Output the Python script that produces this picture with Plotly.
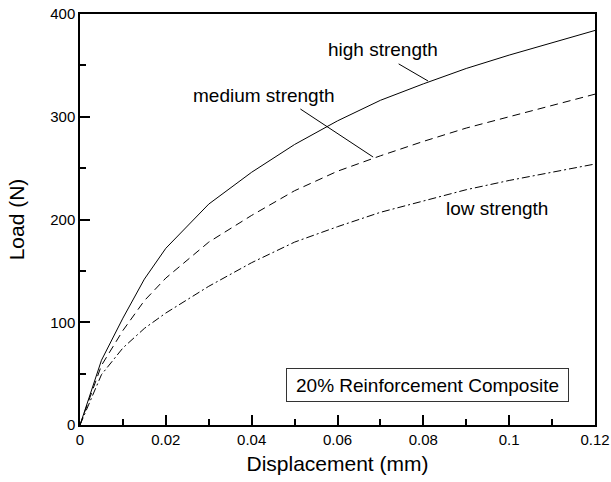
import plotly.graph_objects as go

disp = [0, 0.005, 0.01, 0.015, 0.02, 0.03, 0.04, 0.05, 0.06, 0.07, 0.08, 0.09, 0.10, 0.11, 0.12]
high = [0, 63, 104, 142, 172, 215, 246, 273, 296, 316, 332, 347, 360, 372, 384]
medium = [0, 58, 92, 121, 143, 178, 204, 228, 247, 262, 276, 289, 300, 311, 322]
low = [0, 49, 75, 94, 109, 135, 158, 178, 193, 207, 218, 229, 238, 246, 254]

FONT = "Liberation Sans, Arial, Helvetica, sans-serif"

fig = go.Figure()
fig.add_trace(go.Scatter(x=disp, y=high, mode="lines", name="high strength",
                         line=dict(color="black", width=1)))
fig.add_trace(go.Scatter(x=disp, y=medium, mode="lines", name="medium strength",
                         line=dict(color="black", width=1, dash="8px,5px")))
fig.add_trace(go.Scatter(x=disp, y=low, mode="lines", name="low strength",
                         line=dict(color="black", width=1, dash="8px,3px,2px,3px")))

ann = []
# labels
ann.append(dict(x=0.0706, y=365, xref="x", yref="y", text="high strength", showarrow=False,
                font=dict(size=19, color="black", family=FONT)))
ann.append(dict(x=0.0428, y=321, xref="x", yref="y", text="medium strength", showarrow=False,
                font=dict(size=19, color="black", family=FONT)))
ann.append(dict(x=0.0972, y=211, xref="x", yref="y", text="low strength", showarrow=False,
                font=dict(size=19, color="black", family=FONT)))
# leader lines
ann.append(dict(x=0.0811, y=334.8, ax=0.0739, ay=352.3, xref="x", yref="y", axref="x", ayref="y",
                text="", showarrow=True, arrowhead=0, arrowwidth=1, arrowcolor="black",
                standoff=0, startstandoff=0))
ann.append(dict(x=0.0683, y=260.8, ax=0.0510, ay=308.5, xref="x", yref="y", axref="x", ayref="y",
                text="", showarrow=True, arrowhead=0, arrowwidth=1, arrowcolor="black",
                standoff=0, startstandoff=0))
# box
ann.append(dict(x=0.081, y=38.9, xref="x", yref="y", text="20% Reinforcement Composite",
                showarrow=False, font=dict(size=19, color="black", family=FONT),
                bordercolor="#333", borderwidth=1, borderpad=5, width=271, height=22,
                bgcolor="white"))

fig.update_layout(
    width=611, height=482,
    margin=dict(l=80, r=16, t=14, b=57),
    paper_bgcolor="white", plot_bgcolor="white",
    showlegend=False,
    font=dict(family=FONT, color="black", size=15),
    annotations=ann,
)
fig.update_xaxes(
    range=[0, 0.12], tickvals=[0, 0.02, 0.04, 0.06, 0.08, 0.1, 0.12],
    ticktext=["0", "0.02", "0.04", "0.06", "0.08", "0.1", "0.12"],
    ticks="inside", ticklen=10, tickwidth=1.5, tickcolor="black",
    minor=dict(dtick=0.01, ticks="inside", ticklen=6, tickwidth=1.5, tickcolor="black", showgrid=False),
    showline=True, linecolor="black", linewidth=1.5, mirror=True,
    showgrid=False, zeroline=False, automargin=False,
    title=dict(text="Displacement (mm)", font=dict(size=21, family=FONT), standoff=10),
    tickfont=dict(size=15),
)
fig.update_yaxes(
    range=[0, 400], tickvals=[0, 100, 200, 300, 400],
    ticks="inside", ticklen=10, tickwidth=1.5, tickcolor="black",
    minor=dict(dtick=50, ticks="inside", ticklen=6, tickwidth=1.5, tickcolor="black", showgrid=False),
    showline=True, linecolor="black", linewidth=1.5, mirror=True,
    showgrid=False, zeroline=False, automargin=False,
    title=dict(text="Load (N)", font=dict(size=21, family=FONT), standoff=20),
    tickfont=dict(size=15),
)

fig.write_html("out.html")
